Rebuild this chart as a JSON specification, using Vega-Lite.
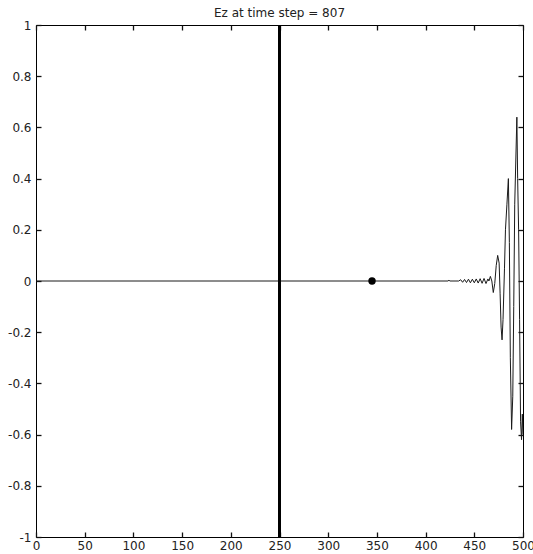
{
  "$schema": "https://vega.github.io/schema/vega-lite/v6.json",
  "width": 487,
  "height": 512,
  "autosize": {"type": "none"},
  "padding": {"left": 36, "top": 25, "right": 10, "bottom": 17},
  "background": "white",
  "title": {"text": "Ez at time step = 807", "font": "DejaVu Sans", "fontSize": 12, "fontWeight": "normal", "color": "#222", "offset": -1},
  "config": {
    "view": {"stroke": "black", "strokeWidth": 1},
    "axis": {"grid": false, "domain": false, "tickColor": "#111111", "tickWidth": 1.3, "labelColor": "#222", "labelFont": "DejaVu Sans", "labelFontSize": 12, "title": null}
  },
  "datasets": {
    "wave": [
      {"x": 0, "y": 0}, {"x": 423, "y": 0}, {"x": 424, "y": 0.003}, {"x": 425, "y": 0}, {"x": 434, "y": 0},
      {"x": 436, "y": 0.005}, {"x": 438, "y": -0.005}, {"x": 440, "y": 0.006}, {"x": 442, "y": -0.006},
      {"x": 444, "y": 0.007}, {"x": 446, "y": -0.007}, {"x": 448, "y": 0.007}, {"x": 450, "y": -0.007},
      {"x": 452, "y": 0.008}, {"x": 454, "y": -0.008}, {"x": 456, "y": 0.009}, {"x": 458, "y": -0.009},
      {"x": 460, "y": 0.01}, {"x": 462, "y": -0.01}, {"x": 464, "y": 0.008}, {"x": 465, "y": 0.0},
      {"x": 466.5, "y": 0.018}, {"x": 468, "y": 0.0}, {"x": 469.5, "y": -0.045}, {"x": 471, "y": -0.01},
      {"x": 472.5, "y": 0.06}, {"x": 474, "y": 0.1}, {"x": 475.5, "y": 0.07}, {"x": 476.5, "y": -0.05},
      {"x": 477.5, "y": -0.18}, {"x": 478.5, "y": -0.23}, {"x": 479.5, "y": -0.15}, {"x": 481, "y": 0.05},
      {"x": 482, "y": 0.2}, {"x": 483.5, "y": 0.3}, {"x": 485, "y": 0.4}, {"x": 486, "y": 0.15},
      {"x": 487, "y": -0.3}, {"x": 488.3, "y": -0.58}, {"x": 489.5, "y": -0.45}, {"x": 490.5, "y": -0.1},
      {"x": 491.5, "y": 0.3}, {"x": 493.7, "y": 0.64}, {"x": 494.5, "y": 0.4}, {"x": 495.5, "y": 0.2},
      {"x": 496.5, "y": -0.15}, {"x": 497.5, "y": -0.55}, {"x": 498.5, "y": -0.62}, {"x": 499.3, "y": -0.52}, {"x": 500, "y": -0.6}
    ],
    "vline": [{"x": 250}],
    "dot": [{"x": 345, "y": 0}]
  },
  "layer": [
    {
      "data": {"name": "wave"},
      "mark": {"type": "line", "color": "#1a1a1a", "strokeWidth": 1, "clip": true},
      "encoding": {
        "x": {"field": "x", "type": "quantitative", "scale": {"domain": [0, 500], "nice": false, "zero": false},
              "axis": {"orient": "bottom", "values": [0, 50, 100, 150, 200, 250, 300, 350, 400, 450, 500], "ticks": false, "labelPadding": 3, "labelFlush": false, "labelOverlap": false}},
        "y": {"field": "y", "type": "quantitative", "scale": {"domain": [-1, 1], "nice": false},
              "axis": {"orient": "left", "values": [-1, -0.8, -0.6, -0.4, -0.2, 0, 0.2, 0.4, 0.6, 0.8, 1], "ticks": false, "labelExpr": "'' + datum.value", "labelPadding": 5, "labelFlush": false, "labelOverlap": false}}
      }
    },
    {
      "data": {"name": "vline"},
      "mark": {"type": "rule", "color": "black", "strokeWidth": 3},
      "encoding": {
        "x": {"field": "x", "type": "quantitative", "axis": {"orient": "top", "offset": -5, "tickSize": 5, "values": [0, 50, 100, 150, 200, 250, 300, 350, 400, 450, 500], "labels": false}}
      }
    },
    {
      "data": {"name": "dot"},
      "mark": {"type": "point", "filled": true, "color": "black", "size": 55, "opacity": 1},
      "encoding": {
        "x": {"field": "x", "type": "quantitative", "axis": {"orient": "bottom", "offset": -5, "tickSize": 5, "values": [0, 50, 100, 150, 200, 250, 300, 350, 400, 450, 500], "labels": false}},
        "y": {"field": "y", "type": "quantitative", "axis": {"orient": "right", "offset": -5, "tickSize": 5, "values": [-1, -0.8, -0.6, -0.4, -0.2, 0, 0.2, 0.4, 0.6, 0.8, 1], "labels": false}}
      }
    },
    {
      "data": {"name": "dot"},
      "mark": {"type": "point", "opacity": 0},
      "encoding": {
        "x": {"field": "x", "type": "quantitative", "axis": null},
        "y": {"field": "y", "type": "quantitative", "axis": {"orient": "left", "offset": -5, "tickSize": 5, "values": [-1, -0.8, -0.6, -0.4, -0.2, 0, 0.2, 0.4, 0.6, 0.8, 1], "labels": false}}
      }
    }
  ],
  "resolve": {"axis": {"x": "independent", "y": "independent"}}
}
